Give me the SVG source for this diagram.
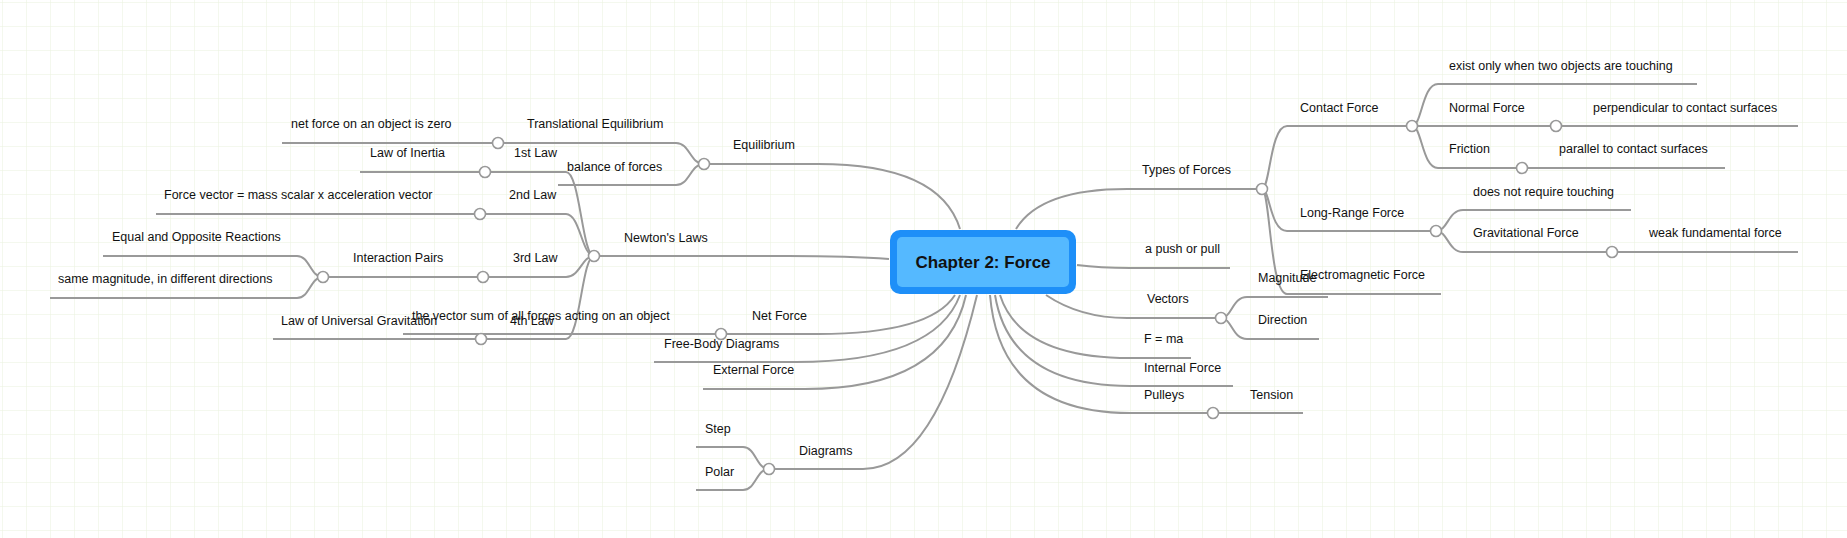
<svg xmlns="http://www.w3.org/2000/svg" width="1847" height="538" viewBox="0 0 1847 538">
<defs>
<pattern id="grid" x="2" y="2" width="24" height="24" patternUnits="userSpaceOnUse">
<path d="M24 0 L0 0 0 24" fill="none" stroke="#e9f1dd" stroke-width="1"/>
</pattern>
<style>
.c{fill:none;stroke:#999;stroke-width:2}
.j{fill:#fff;stroke:#999;stroke-width:1.6}
text{font-family:"Liberation Sans",Arial,sans-serif;font-size:12.5px;fill:#111}
.t{font-size:17px;font-weight:bold;text-anchor:middle}
</style>
</defs>
<rect width="1847" height="538" fill="#fff"/>
<rect width="1847" height="538" fill="url(#grid)"/>
<g id="connectors">
<path class="c" d="M960 229 Q940 164 818 164 L704 164"/>
<path class="c" d="M704 164 C690 164 690 143 676 143 L282 143"/>
<path class="c" d="M704 164 C690 164 690 185 676 185 L558 185"/>
<path class="c" d="M889 259 Q850 256 788 256 L594 256"/>
<path class="c" d="M594 256 C582 256 580 172 566 172 L360 172"/>
<path class="c" d="M594 256 C582 256 580 214 566 214 L156 214"/>
<path class="c" d="M594 256 C582 256 580 277 566 277 L323 277"/>
<path class="c" d="M323 277 C310 277 310 256 297 256 L103 256"/>
<path class="c" d="M323 277 C310 277 310 298 297 298 L50 298"/>
<path class="c" d="M594 256 C582 256 580 339 566 339 L273 339"/>
<path class="c" d="M955 295 Q930 334 818 334 L403 334"/>
<path class="c" d="M960 295 Q935 362 796 362 L654 362"/>
<path class="c" d="M966 295 Q945 389 805 389 L703 389"/>
<path class="c" d="M977 295 Q935 469 863 469 L769 469"/>
<path class="c" d="M769 469 C756 469 756 447 743 447 L696 447"/>
<path class="c" d="M769 469 C756 469 756 490 743 490 L696 490"/>
<path class="c" d="M1016 229 Q1040 189 1127 189 L1262 189"/>
<path class="c" d="M1262 189 C1270 189 1270 126 1287 126 L1412 126"/>
<path class="c" d="M1412 126 C1422 126 1422 84 1438 84 L1697 84"/>
<path class="c" d="M1412 126 L1798 126"/>
<path class="c" d="M1412 126 C1422 126 1422 168 1438 168 L1725 168"/>
<path class="c" d="M1262 189 C1270 189 1270 231 1287 231 L1436 231"/>
<path class="c" d="M1436 231 C1448 231 1448 210 1463 210 L1631 210"/>
<path class="c" d="M1436 231 C1448 231 1448 252 1463 252 L1798 252"/>
<path class="c" d="M1262 189 C1270 189 1270 294 1287 294 L1441 294"/>
<path class="c" d="M1077 265 Q1100 268 1130 268 L1230 268"/>
<path class="c" d="M1046 295 Q1080 318 1127 318 L1221 318"/>
<path class="c" d="M1221 318 C1232 318 1232 297 1247 297 L1328 297"/>
<path class="c" d="M1221 318 C1232 318 1232 339 1247 339 L1319 339"/>
<path class="c" d="M1000 295 Q1020 358 1130 358 L1191 358"/>
<path class="c" d="M995 295 Q1010 386 1130 386 L1233 386"/>
<path class="c" d="M990 295 Q1000 413 1130 413 L1303 413"/>
<circle class="j" cx="704" cy="164" r="5.5"/>
<circle class="j" cx="498" cy="143" r="5.5"/>
<circle class="j" cx="594" cy="256" r="5.5"/>
<circle class="j" cx="485" cy="172" r="5.5"/>
<circle class="j" cx="480" cy="214" r="5.5"/>
<circle class="j" cx="483" cy="277" r="5.5"/>
<circle class="j" cx="323" cy="277" r="5.5"/>
<circle class="j" cx="481" cy="339" r="5.5"/>
<circle class="j" cx="721" cy="334" r="5.5"/>
<circle class="j" cx="769" cy="469" r="5.5"/>
<circle class="j" cx="1262" cy="189" r="5.5"/>
<circle class="j" cx="1412" cy="126" r="5.5"/>
<circle class="j" cx="1556" cy="126" r="5.5"/>
<circle class="j" cx="1522" cy="168" r="5.5"/>
<circle class="j" cx="1436" cy="231" r="5.5"/>
<circle class="j" cx="1612" cy="252" r="5.5"/>
<circle class="j" cx="1221" cy="318" r="5.5"/>
<circle class="j" cx="1213" cy="413" r="5.5"/>
</g>
<g id="root">
<rect x="890" y="230" width="186" height="64" rx="10" fill="#1e8ff8"/>
<rect x="897" y="237" width="172" height="50" rx="5" fill="#55b9ff"/>
<text class="t" x="983" y="268">Chapter 2: Force</text>
</g>
<g id="equilibrium"><text x="733" y="149">Equilibrium</text></g>
<g id="translational"><text x="527" y="128">Translational Equilibrium</text></g>
<g id="netzero"><text x="291" y="128">net force on an object is zero</text></g>
<g id="balance"><text x="567" y="171">balance of forces</text></g>
<g id="newton"><text x="624" y="242">Newton's Laws</text></g>
<g id="law1"><text x="514" y="157">1st Law</text></g>
<g id="inertia"><text x="370" y="157">Law of Inertia</text></g>
<g id="law2"><text x="509" y="199">2nd Law</text></g>
<g id="fvec"><text x="164" y="199">Force vector = mass scalar x acceleration vector</text></g>
<g id="law3"><text x="513" y="262">3rd Law</text></g>
<g id="pairs"><text x="353" y="262">Interaction Pairs</text></g>
<g id="equal"><text x="112" y="241">Equal and Opposite Reactions</text></g>
<g id="same"><text x="58" y="283">same magnitude, in different directions</text></g>
<g id="law4"><text x="510" y="325">4th Law</text></g>
<g id="ugrav"><text x="281" y="325">Law of Universal Gravitation</text></g>
<g id="netforce"><text x="752" y="320">Net Force</text></g>
<g id="vsum"><text x="412" y="320">the vector sum of all forces acting on an object</text></g>
<g id="fbd"><text x="664" y="348">Free-Body Diagrams</text></g>
<g id="external"><text x="713" y="374">External Force</text></g>
<g id="diagrams"><text x="799" y="455">Diagrams</text></g>
<g id="step"><text x="705" y="433">Step</text></g>
<g id="polar"><text x="705" y="476">Polar</text></g>
<g id="types"><text x="1142" y="174">Types of Forces</text></g>
<g id="contact"><text x="1300" y="112">Contact Force</text></g>
<g id="exist"><text x="1449" y="70">exist only when two objects are touching</text></g>
<g id="normal"><text x="1449" y="112">Normal Force</text></g>
<g id="perp"><text x="1593" y="112">perpendicular to contact surfaces</text></g>
<g id="friction"><text x="1449" y="153">Friction</text></g>
<g id="parallel"><text x="1559" y="153">parallel to contact surfaces</text></g>
<g id="longrange"><text x="1300" y="217">Long-Range Force</text></g>
<g id="notouch"><text x="1473" y="196">does not require touching</text></g>
<g id="gravforce"><text x="1473" y="237">Gravitational Force</text></g>
<g id="weak"><text x="1649" y="237">weak fundamental force</text></g>
<g id="em"><text x="1300" y="279">Electromagnetic Force</text></g>
<g id="push"><text x="1145" y="253">a push or pull</text></g>
<g id="vectors"><text x="1147" y="303">Vectors</text></g>
<g id="magnitude"><text x="1258" y="282">Magnitude</text></g>
<g id="direction"><text x="1258" y="324">Direction</text></g>
<g id="fma"><text x="1144" y="343">F = ma</text></g>
<g id="internal"><text x="1144" y="372">Internal Force</text></g>
<g id="pulleys"><text x="1144" y="399">Pulleys</text></g>
<g id="tension"><text x="1250" y="399">Tension</text></g>
</svg>
